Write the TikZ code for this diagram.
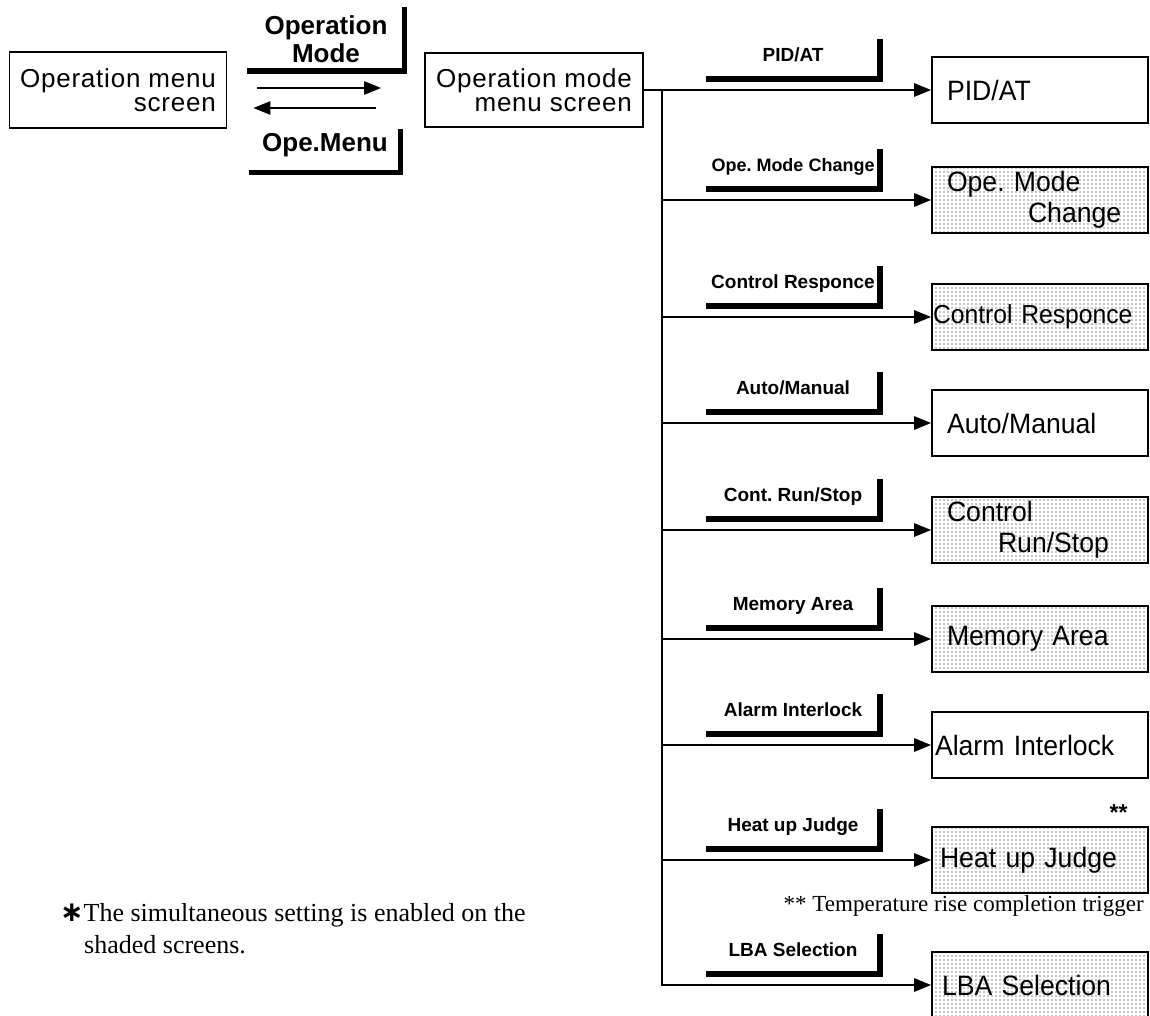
\documentclass[tikz,border=0pt]{standalone}
\usepackage{fontspec}
\setmainfont{Liberation Serif}
\setsansfont{Liberation Sans}
\newfontfamily\screenfont[FakeStretch=0.95]{Liberation Sans}
\newfontfamily\menufont[LetterSpace=3]{Liberation Sans}
\newfontfamily\starfont{DejaVu Sans}
\usetikzlibrary{arrows.meta,positioning,patterns}

% fine dot screen for the shaded menus
\pgfdeclarepatternformonly{screendots}{\pgfqpoint{-1pt}{-1pt}}{\pgfqpoint{1pt}{1pt}}{\pgfqpoint{4pt}{4pt}}%
{\pgfpathcircle{\pgfqpoint{0pt}{0pt}}{0.6pt}\pgfusepath{fill}}

\tikzstyle{menu} = [draw, line width=1.6pt, align=right, inner sep=0pt, font=\menufont\fontsize{26}{24}\selectfont]
\tikzstyle{screen} = [draw, line width=1.6pt, minimum height=66pt, text width=186pt, inner xsep=15pt, inner ysep=0pt, align=left, font=\screenfont\fontsize{28}{31}\selectfont]
\tikzstyle{shaded} = [screen, pattern=screendots]
\tikzstyle{key} = [inner sep=0pt, minimum width=174pt, minimum height=40pt, text height=14pt, text depth=8pt, font=\sffamily\bfseries\fontsize{19}{21}\selectfont]
\tikzstyle{bigkey} = [inner sep=0pt, align=center, font=\sffamily\bfseries\fontsize{26}{28}\selectfont]
\tikzstyle{keyline} = [line width=5.5pt]
\tikzstyle{wire} = [draw, line width=2.5pt]
\tikzstyle{tedge} = [wire, -{Triangle[length=17pt,width=13pt]}]
\tikzstyle{note} = [inner sep=0pt, align=left]

\begin{document}
\frenchspacing
\begin{tikzpicture}[x=1pt,y=-1pt]
\useasboundingbox (0,0) rectangle (1150,1016);
\clip (0,0) rectangle (1150,1016);

% menu screens =============================
\node[menu, minimum width=217pt, minimum height=76pt] (opemenu) at (118,90) {Operation menu\\screen};
\node[menu, minimum width=218pt, minimum height=74pt] (opemode) at (534,90) {Operation mode\\menu screen};

\node[bigkey, minimum width=157pt, minimum height=64pt] (kmode) at (326,39) {Operation\\Mode};
\node[bigkey, minimum width=151pt, minimum height=43pt, text height=19pt, text depth=17pt] (kmenu) at (325,151) {Ope.Menu};
\draw[keyline] (kmode.south west) -| (kmode.north east);
\draw[keyline] (kmenu.south west) -| (kmenu.north east);

\draw[tedge, shorten <=30pt, shorten >=43pt] ([yshift=2pt]opemenu.east) -- ([yshift=2pt]opemode.west);
\draw[tedge, shorten <=48pt, shorten >=26pt] ([yshift=-18pt]opemode.west) -- ([yshift=-18pt]opemenu.east);

% operation mode screens =============================
\node[screen] (pid) at (1040,90) {PID/AT};
\node[shaded] (omc) at (1040,200) {Ope. Mode\\\hspace*{81pt}Change};
\node[shaded, font=\screenfont\fontsize{26}{31}\selectfont] (cresp) at (1040,317) {\hspace*{-14pt}Control Responce};
\node[screen] (am) at (1040,423) {Auto/Manual};
\node[shaded] (crs) at (1040,530) {Control\\\hspace*{51pt}Run/Stop};
\node[shaded] (mem) at (1040,639) {Memory Area};
\node[screen] (alarm) at (1040,745) {\hspace*{-12pt}Alarm Interlock};
\node[shaded] (heat) at (1040,860) {\hspace*{-7pt}Heat up Judge};
\node[shaded] (lba) at (1040,985) {\hspace*{-5pt}LBA Selection};

% edges
\coordinate (trunk) at (662,90);
\draw[tedge] (opemode) -- (pid);
\draw[tedge] (trunk) |- (lba);
\foreach \s in {omc,cresp,am,crs,mem,alarm,heat}
  \draw[tedge] (trunk |- \s.west) -- (\s);

% keys
\node[key, above left=11pt and 51pt of pid.west] (kpid) {PID/AT};
\node[key, above left=11pt and 51pt of omc.west, font=\sffamily\bfseries\fontsize{18}{21}\selectfont] (komc) {Ope. Mode Change};
\node[key, above left=11pt and 51pt of cresp.west] (kcresp) {Control Responce};
\node[key, above left=11pt and 51pt of am.west] (kam) {Auto/Manual};
\node[key, above left=11pt and 51pt of crs.west] (kcrs) {Cont. Run/Stop};
\node[key, above left=11pt and 51pt of mem.west] (kmem) {Memory Area};
\node[key, above left=11pt and 51pt of alarm.west] (kalarm) {Alarm Interlock};
\node[key, above left=11pt and 51pt of heat.west] (kheat) {Heat up Judge};
\node[key, above left=11pt and 51pt of lba.west] (klba) {LBA Selection};
\foreach \k in {kpid,komc,kcresp,kam,kcrs,kmem,kalarm,kheat,klba}
  \draw[keyline] (\k.south west) -| (\k.north east);

% notes
\node[note, font=\sffamily\bfseries\fontsize{23}{25}\selectfont, above left=6pt and 21pt of heat.north east] (stars) {**};
\node[note, font=\fontsize{23}{25}\selectfont, below left=2pt and 5pt of heat.south east] (trigger) {** Temperature rise completion trigger};
\node[note, font=\fontsize{26}{32}\selectfont, anchor=north west] (shadenote) at (60,903) {{\starfont\bfseries\fontsize{28}{32}\selectfont ∗}The simultaneous setting is enabled on the\\\hspace*{24pt}shaded screens.};

\end{tikzpicture}
\end{document}
